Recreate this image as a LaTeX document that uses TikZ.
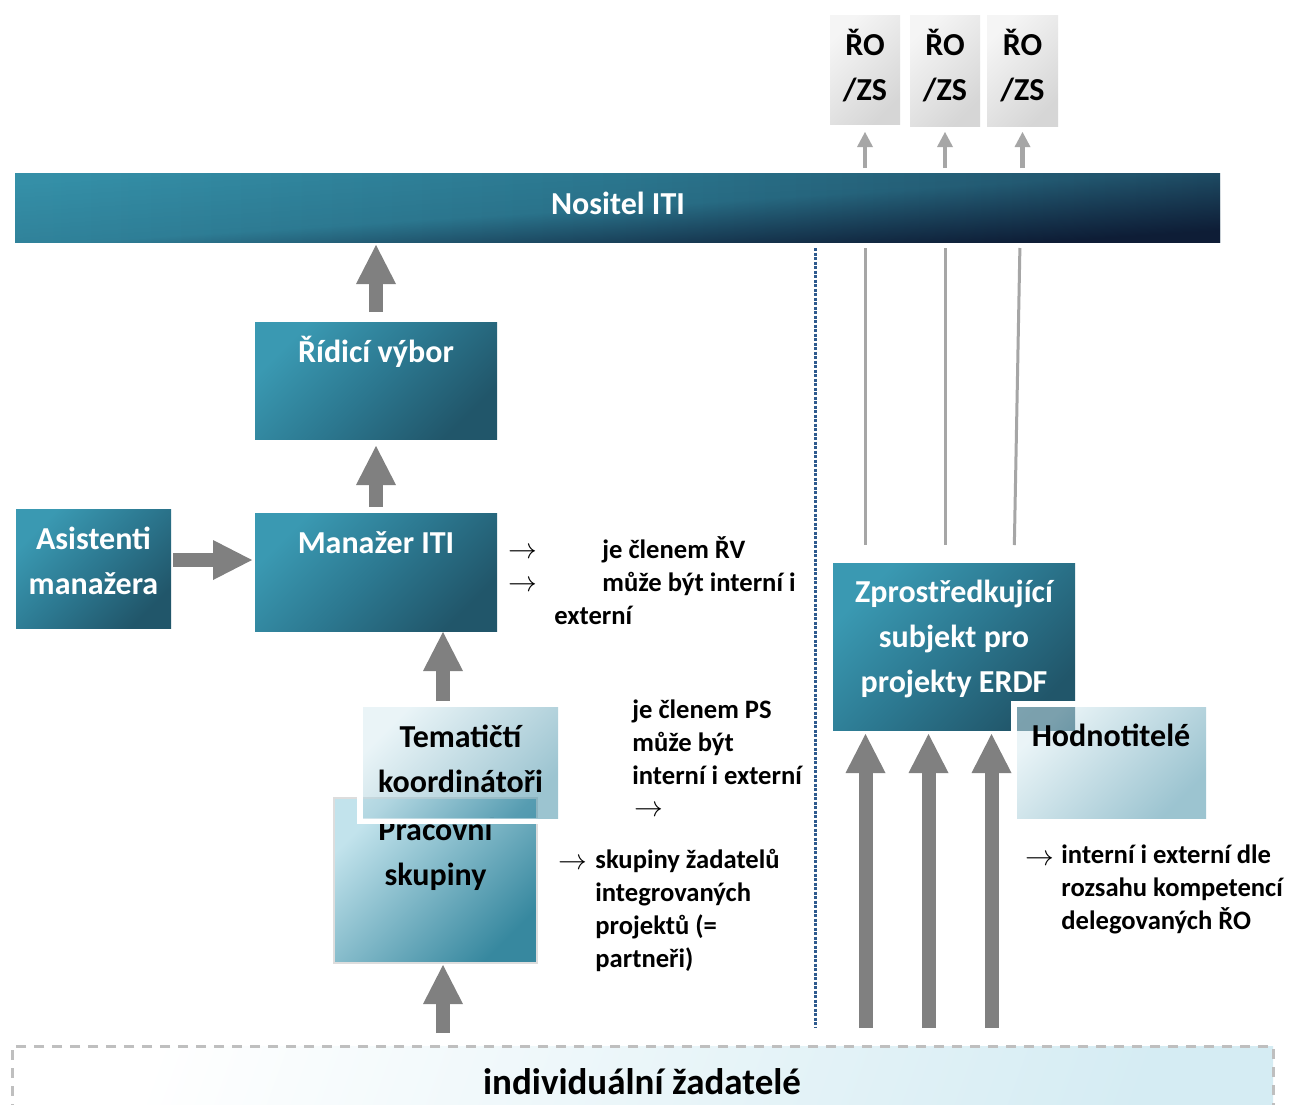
\documentclass[tikz,border=0pt]{standalone}
\usepackage{fontspec}
\setmainfont{Carlito}
\usetikzlibrary{arrows.meta,fadings}

\definecolor{tealTop}{HTML}{3A99B2}
\definecolor{tealMid}{HTML}{2C7890}
\definecolor{tealBot}{HTML}{21566A}
\definecolor{barLeft}{HTML}{3590A8}
\definecolor{barMid}{HTML}{2D7C94}
\definecolor{barRight}{HTML}{22556D}
\definecolor{barNavy}{HTML}{0E1D36}
\definecolor{paleTop}{HTML}{D6EBF1}
\definecolor{paleBot}{HTML}{3A8AA3}
\definecolor{groupTop}{HTML}{C2E3EC}
\definecolor{groupBot}{HTML}{37889F}
\definecolor{roTop}{HTML}{F5F5F5}
\definecolor{roBot}{HTML}{D6D6D6}
\definecolor{baseTop}{HTML}{FFFFFF}
\definecolor{baseBot}{HTML}{D5ECF3}
\definecolor{blockGrey}{HTML}{808080}
\definecolor{thinGrey}{HTML}{A6A6A6}
\definecolor{dashGrey}{HTML}{BFBFBF}
\definecolor{divBlue}{HTML}{2E5A8E}
\definecolor{edgeGrey}{HTML}{DDDDDD}

% darkening towards the lower right corner of the holder bar
\begin{tikzfadingfrompicture}[name=barcorner]
  \shade[top color=transparent!100, bottom color=transparent!0, middle color=transparent!88,
         shading angle=45] (0,0) rectangle (2cm,2cm);
\end{tikzfadingfrompicture}

\begin{document}
\begin{tikzpicture}[x=0.5pt, y=-0.5pt,
  box/.style={rectangle, inner sep=0pt, outer sep=0pt},
  tealbox/.style={box, top color=tealTop, bottom color=tealBot, middle color=tealMid, shading angle=45},
  barbox/.style={box, left color=barLeft, right color=barRight, middle color=barMid},
  palebox/.style={box, top color=paleTop, bottom color=paleBot, shading angle=45, fill opacity=0.5},
  groupbox/.style={box, top color=groupTop, bottom color=groupBot, shading angle=45, draw=edgeGrey, line width=0.75pt},
  robox/.style={box, top color=roTop, bottom color=roBot, shading angle=45},
  basebox/.style={box, top color=baseTop, bottom color=baseBot, shading angle=70, draw=dashGrey, line width=1.5pt, dash pattern=on 5pt off 4pt},
  framebox/.style={box, draw=white, line width=3pt},
  title/.style={inner sep=0pt, anchor=base, align=center, font=\fontsize{16}{22.5}\selectfont\bfseries},
  wtitle/.style={title, text=white},
  note/.style={inner sep=0pt, anchor=base west, align=left, font=\fontsize{13.3}{16.4}\selectfont\bfseries},
  pointer/.style={inner sep=0pt, anchor=base west, font=\fontsize{13.3}{16.4}\selectfont},
  bigarrow/.style={draw=blockGrey, line width=7pt, -{Triangle[width=20pt, length=19.5pt, line width=0pt]}},
  thinarrow/.style={draw=thinGrey, line width=2.25pt, -{Triangle[width=8pt, length=7.5pt, line width=0pt]}},
  guide/.style={draw=thinGrey, line width=1.5pt},
  divider/.style={draw=divBlue, line width=1.5pt, dash pattern=on 1.5pt off 0.75pt},
]
\useasboundingbox (0,0) rectangle (1290,1104);
\clip (0,0) rectangle (1290,1104);
\fill[white] (0,0) rectangle (1290,1104);

% managing authorities / intermediate bodies (multi-line texts sit on their last baseline)
\node[robox, minimum width=35pt, minimum height=54.5pt] (ro1) at (865,69.5) {};
\node[robox, minimum width=35pt, minimum height=55.5pt] (ro2) at (945,70.5) {};
\node[robox, minimum width=35.5pt, minimum height=55.5pt] (ro3) at (1022.5,70.5) {};
\node[title] (ro1t) at (865,100) {ŘO\\/ZS};
\node[title] (ro2t) at (945,100) {ŘO\\/ZS};
\node[title] (ro3t) at (1022.5,100) {ŘO\\/ZS};

% ITI holder bar, darkened towards its lower right corner
\node[barbox, minimum width=602.5pt, minimum height=34.5pt] (nositel) at (617.5,207.5) {};
\begin{scope}
  \clip (nositel.north west) rectangle (nositel.south east);
  \fill[barNavy, path fading=barcorner]
    ([shift={(-2pt,2pt)}]nositel.north west) rectangle ([shift={(2pt,-2pt)}]nositel.south east);
\end{scope}
\node[wtitle] (nositelt) at (618,214) {Nositel ITI};

% left column
\node[tealbox, minimum width=121pt, minimum height=58.5pt] (ridici) at (376,380.5) {};
\node[wtitle] (ridicit) at (376,362) {Řídicí výbor};
\node[tealbox, minimum width=121pt, minimum height=59pt] (manazer) at (376,572) {};
\node[wtitle] (manazert) at (376,553) {Manažer ITI};
\node[tealbox, minimum width=77.5pt, minimum height=59.5pt] (asist) at (93.5,568.5) {};
\node[wtitle] (asistt) at (93.5,594) {Asistenti\\manažera};
\node[groupbox, minimum width=101.5pt, minimum height=82.5pt] (prac) at (435.5,880.5) {};
\node[title] (pract) at (435.5,885) {Pracovní\\skupiny};
\node[framebox, minimum width=100.5pt, minimum height=58.5pt] (temframe) at (460.5,762.5) {};
\node[palebox, minimum width=97.5pt, minimum height=55.5pt] (tem) at (460.5,762.5) {};
\node[title] (temt) at (460.5,792) {Tematičtí\\koordinátoři};

% right column
\node[tealbox, minimum width=121pt, minimum height=83.5pt] (zs) at (954,646.5) {};
\node[wtitle] (zst) at (954,692) {Zprostředkující\\subjekt pro\\projekty ERDF};
\node[framebox, minimum width=97.5pt, minimum height=58.5pt] (hodframe) at (1111.5,762.5) {};
\node[palebox, minimum width=94.5pt, minimum height=55.5pt] (hod) at (1111.5,762.5) {};
\node[title] (hodt) at (1111,746) {Hodnotitelé};

% applicants
\node[basebox, minimum width=630.5pt, minimum height=42pt] (base) at (642.5,1088) {};
\node[title, font=\fontsize{18.5}{22}\selectfont\bfseries] (baset) at (642,1094) {individuální žadatelé};

% helper columns
\coordinate (colT) at (443,0);
\coordinate (colA) at (865.5,0);
\coordinate (colB) at (928.5,0);
\coordinate (colC) at (991.5,0);
\coordinate (colD) at (815,0);
\coordinate (asistOut) at ([yshift=4.25pt]asist.east);
\coordinate (slantTop) at ([xshift=-1.25pt]ro3.south);
\coordinate (slantEnd) at ([xshift=-30.5pt]zs.north east);

% block arrows
\draw[bigarrow, shorten <=5pt, shorten >=1.5pt] (ridici.north) -- (ridici.north |- nositel.south);
\draw[bigarrow, shorten <=3pt, shorten >=3.5pt] (manazer.north) -- (ridici.south);
\draw[bigarrow, shorten <=1pt, shorten >=1.5pt] (asistOut) -- (asistOut -| manazer.west);
\draw[bigarrow, shorten <=3pt, shorten >=0.5pt] (colT |- tem.north) -- (colT |- manazer.south);
\draw[bigarrow, shorten <=6.5pt, shorten >=1pt] (colT |- base.north) -- (colT |- prac.south);
\foreach \c in {colA,colB,colC}
  \draw[bigarrow, shorten <=9pt, shorten >=2pt] (\c |- base.north) -- (\c |- zs.south);

% thin links to the managing authorities
\draw[thinarrow, shorten <=2.5pt, shorten >=4pt] (ro1.south |- nositel.north) -- (ro1.south);
\draw[thinarrow, shorten <=2.5pt, shorten >=3pt] (ro2.south |- nositel.north) -- (ro2.south);
\draw[thinarrow, shorten <=2.5pt, shorten >=3pt] (ro3.south |- nositel.north) -- (ro3.south);
\draw[guide, shorten <=3pt, shorten >=9pt] (ro1.south |- nositel.south) -- (ro1.south |- zs.north);
\draw[guide, shorten <=3pt, shorten >=9pt] (ro2.south |- nositel.south) -- (ro2.south |- zs.north);
\draw[guide, shorten <=3pt, shorten >=9pt] (slantTop |- nositel.south) -- (slantEnd);

% dividing line
\draw[divider, shorten <=3pt, shorten >=9pt] (colD |- nositel.south) -- (colD |- base.north);

% notes
\node[pointer] (p1) at (508,558) {$\rightarrow$};
\node[pointer] (p2) at (508,591) {$\rightarrow$};
\node[note] (n1) at (602,591) {je členem ŘV\\může být interní i};
\node[note] (n1b) at (554,624) {externí};
\node[note] (n2) at (632,784) {je členem PS\\může být\\interní i externí};
\node[pointer] (p3) at (634,816) {$\rightarrow$};
\node[pointer] (p4) at (558,869) {$\rightarrow$};
\node[note] (n3) at (595,967) {skupiny žadatelů\\integrovaných\\projektů (=\\partneři)};
\node[pointer] (p5) at (1025,865) {$\rightarrow$};
\node[note] (n4) at (1061,929) {interní i externí dle\\rozsahu kompetencí\\delegovaných ŘO};
\end{tikzpicture}
\end{document}
